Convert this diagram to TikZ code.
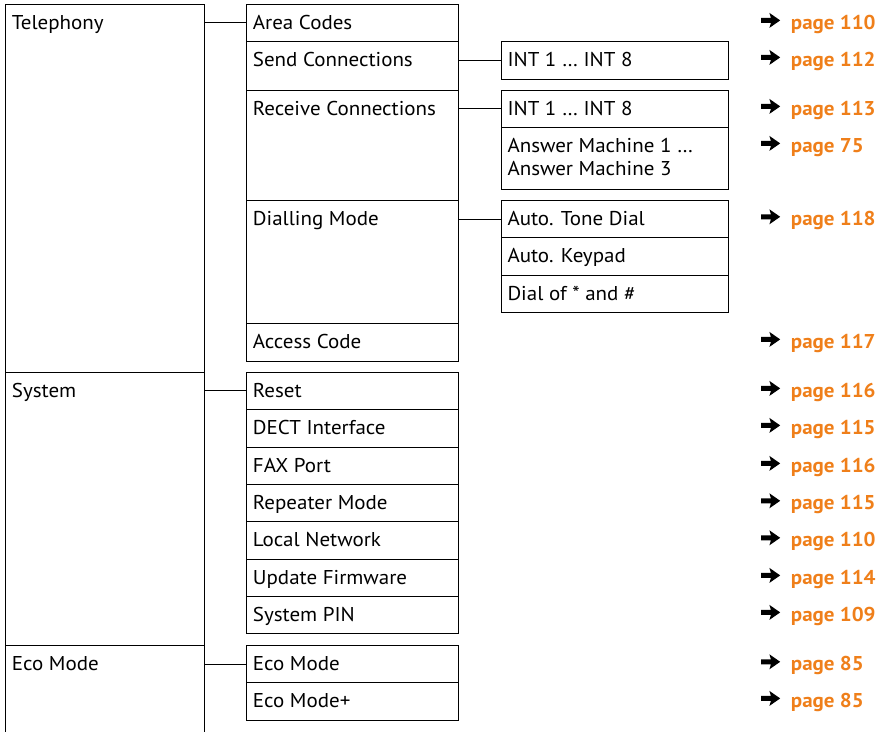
\documentclass[tikz,border=0pt]{standalone}
\usepackage{fontspec}
\setmainfont{PT Sans}[FakeStretch=1.05]
\usetikzlibrary{calc}
\definecolor{pgorange}{RGB}{239,127,26}
\begin{document}
\begin{tikzpicture}[x=1pt,y=-1pt,
  box/.style={draw, line width=1pt, anchor=north west, inner sep=0pt, outer sep=0pt},
  c1/.style={box, minimum width=198.6pt},
  c2/.style={box, minimum width=211.6pt},
  c3/.style={box, minimum width=227pt},
  txt/.style={anchor=base west, inner sep=0pt, font=\fontsize{20}{23.6}\selectfont, align=left},
  pg/.style={anchor=base west, inner sep=0pt, font=\fontsize{20}{23}\selectfont\bfseries, text=pgorange},
  link/.style={line width=1pt},
  refarrow/.pic={\fill (-29.5,-11.4) -- (-19.8,-11.4) -- (-21.3,-16.4) -- (-10.5,-8.9) -- (-21.3,-1.4) -- (-19.8,-6.4) -- (-29.5,-6.4) -- cycle;}]
\useasboundingbox (0,0) rectangle (891,731);
\coordinate (pgx) at (790.7,0);

% column 1
\node[c1, minimum height=368pt] (tel) at (5.7,4.3) {};
\node[c1, minimum height=273.4pt] (sys) at (5.7,372.3) {};
\node[c1, draw=none, minimum height=87pt] (eco) at (5.7,645.7) {};
\draw[line width=1pt] (eco.south west) -- (eco.north west) -- (eco.north east) -- (eco.south east);
\node[txt] (ttel) at ($(tel.north west)+(6,25)$) {Telephony};
\node[txt] (tsys) at ($(sys.north west)+(6,25)$) {System};
\node[txt] (teco) at ($(eco.north west)+(6,25)$) {Eco Mode};

% column 2
\node[c2, minimum height=37pt] (ac) at (246.7,4.3) {};
\node[c2, minimum height=49pt] (send) at (246.7,41.3) {};
\node[c2, minimum height=110.4pt] (recv) at (246.7,90.3) {};
\node[c2, minimum height=122.6pt] (dial) at (246.7,200.7) {};
\node[c2, minimum height=37.7pt] (acc) at (246.7,323.3) {};
\node[c2, minimum height=37pt] (reset) at (246.7,372.3) {};
\node[c2, minimum height=38pt] (dect) at (246.7,409.3) {};
\node[c2, minimum height=37.4pt] (fax) at (246.7,447.3) {};
\node[c2, minimum height=37pt] (rep) at (246.7,484.7) {};
\node[c2, minimum height=37.6pt] (lan) at (246.7,521.7) {};
\node[c2, minimum height=37pt] (upd) at (246.7,559.3) {};
\node[c2, minimum height=37pt] (pin) at (246.7,596.3) {};
\node[c2, minimum height=36.6pt] (ecom) at (246.7,645.7) {};
\node[c2, minimum height=37.7pt] (ecop) at (246.7,682.3) {};

\node[txt] (tac) at ($(ac.north west)+(6,25)$) {Area Codes};
\node[txt] (tsend) at ($(send.north west)+(6,25)$) {Send Connections};
\node[txt] (trecv) at ($(recv.north west)+(6,25)$) {Receive Connections};
\node[txt] (tdial) at ($(dial.north west)+(6,25)$) {Dialling Mode};
\node[txt] (tacc) at ($(acc.north west)+(6,25)$) {Access Code};
\node[txt] (treset) at ($(reset.north west)+(6,25)$) {Reset};
\node[txt] (tdect) at ($(dect.north west)+(6,25)$) {DECT Interface};
\node[txt] (tfax) at ($(fax.north west)+(6,25)$) {FAX Port};
\node[txt] (trep) at ($(rep.north west)+(6,25)$) {Repeater Mode};
\node[txt] (tlan) at ($(lan.north west)+(6,25)$) {Local Network};
\node[txt] (tupd) at ($(upd.north west)+(6,25)$) {Update Firmware};
\node[txt] (tpin) at ($(pin.north west)+(6,25)$) {System PIN};
\node[txt] (tecom) at ($(ecom.north west)+(6,25)$) {Eco Mode};
\node[txt] (tecop) at ($(ecop.north west)+(6,25)$) {Eco Mode+};

% column 3
\node[c3, minimum height=38pt] (sint) at (501.3,41.3) {};
\node[c3, minimum height=37pt] (rint) at (501.3,90.3) {};
\node[c3, minimum height=62pt] (am) at (501.3,127.3) {};
\node[c3, minimum height=36.6pt] (tone) at (501.3,200.7) {};
\node[c3, minimum height=38pt] (keyp) at (501.3,237.3) {};
\node[c3, minimum height=37pt] (star) at (501.3,275.3) {};

\node[txt] (tsint) at ($(sint.north west)+(6,25)$) {INT 1 … INT 8};
\node[txt] (trint) at ($(rint.north west)+(6,25)$) {INT 1 … INT 8};
\node[txt] (tam) at ($(am.north west)+(6,48.6)$) {Answer Machine 1 …\\Answer Machine 3};
\node[txt] (ttone) at ($(tone.north west)+(6,25)$) {Auto. Tone Dial};
\node[txt] (tkeyp) at ($(keyp.north west)+(6,25)$) {Auto. Keypad};
\node[txt] (tstar) at ($(star.north west)+(6,25)$) {Dial of * and \#};

% connectors
\draw[link] (ac.west -| tel.east) -- (ac.west);
\draw[link] (reset.west -| sys.east) -- (reset.west);
\draw[link] (ecom.west -| eco.east) -- (ecom.west);
\draw[link] (sint.west -| send.east) -- (sint.west);
\draw[link] (rint.west -| recv.east) -- (rint.west);
\draw[link] (tone.west -| dial.east) -- (tone.west);

% page references
\node[pg] (p1) at ($(ac.north -| pgx)+(0,25)$) {page 110};
\node[pg] (p2) at ($(sint.north -| pgx)+(0,25)$) {page 112};
\node[pg] (p3) at ($(rint.north -| pgx)+(0,25)$) {page 113};
\node[pg] (p4) at ($(am.north -| pgx)+(0,25)$) {page 75};
\node[pg] (p5) at ($(tone.north -| pgx)+(0,25)$) {page 118};
\node[pg] (p6) at ($(acc.north -| pgx)+(0,25)$) {page 117};
\node[pg] (p7) at ($(reset.north -| pgx)+(0,25)$) {page 116};
\node[pg] (p8) at ($(dect.north -| pgx)+(0,25)$) {page 115};
\node[pg] (p9) at ($(fax.north -| pgx)+(0,25)$) {page 116};
\node[pg] (p10) at ($(rep.north -| pgx)+(0,25)$) {page 115};
\node[pg] (p11) at ($(lan.north -| pgx)+(0,25)$) {page 110};
\node[pg] (p12) at ($(upd.north -| pgx)+(0,25)$) {page 114};
\node[pg] (p13) at ($(pin.north -| pgx)+(0,25)$) {page 109};
\node[pg] (p14) at ($(ecom.north -| pgx)+(0,25)$) {page 85};
\node[pg] (p15) at ($(ecop.north -| pgx)+(0,25)$) {page 85};
\foreach \p in {p1,p2,p3,p4,p5,p6,p7,p8,p9,p10,p11,p12,p13,p14,p15}
  \pic at (\p.base west) {refarrow};
\end{tikzpicture}
\end{document}
